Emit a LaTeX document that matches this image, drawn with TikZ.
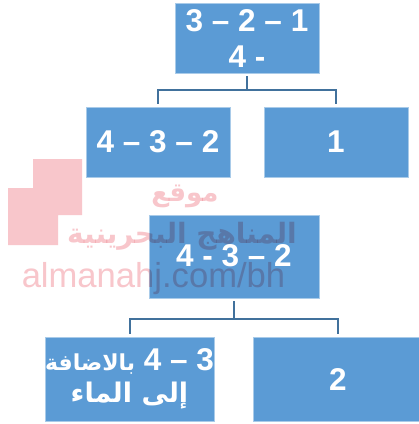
\documentclass[tikz,border=0pt]{standalone}
\usepackage{fontspec}
\setmainfont{Liberation Sans}
\newfontfamily\arabicfont[Script=Arabic]{DejaVu Sans}
\TeXXeTstate=1
\definecolor{boxblue}{HTML}{5B9BD5}
\definecolor{boxedge}{HTML}{A9CBE9}
\definecolor{connblue}{HTML}{41719C}
\definecolor{wmpink}{HTML}{F8C6CB}
\tikzset{
  nbox/.style={draw=boxedge,line width=0.6pt,fill=boxblue,text=white,inner sep=0pt,align=center,
    font=\fontsize{31.5}{36}\selectfont\bfseries},
  conn/.style={draw=connblue,line width=2pt},
  wmtext/.style={text=wmpink,inner sep=0pt,blend mode=multiply}
}
\begin{document}
\begin{tikzpicture}[x=1pt,y=-1pt]
\useasboundingbox (0,0) rectangle (419,424);
\fill[white] (0,0) rectangle (419,424);
\node[nbox,minimum width=144pt,minimum height=70pt] (top) at (247,38) {3 – 2 – 1\\4 -};
\node[nbox,minimum width=144pt,minimum height=70pt] (la) at (158,142) {4 – 3 – 2};
\node[nbox,minimum width=144pt,minimum height=70pt] (ra) at (336,142) {1};
\node[nbox,minimum width=170pt,minimum height=83pt] (mid) at (234,256.5) {\raisebox{2pt}{4 - 3 – 2}};
\node[nbox,minimum width=169pt,minimum height=84pt] (lb) at (129.5,379) {\raisebox{-3pt}{\begin{tabular}{@{}c@{}}%
  {\fontsize{22}{30}\selectfont\arabicfont\beginR بالاضافة\endR}\ 4 – 3\\[-4pt]
  {\fontsize{27}{30}\selectfont\arabicfont\beginR إلى الماء\endR}\end{tabular}}};
\node[nbox,minimum width=169pt,minimum height=84pt] (rb) at (338,379) {2};
\coordinate (ja) at (247,90);
\coordinate (jb) at (234,319);
\draw[conn,shorten <=3pt] (top.south) -- (ja);
\draw[conn,shorten <=3pt] (la.north) |- (ja);
\draw[conn,shorten <=3pt] (ra.north) |- (ja);
\draw[conn,shorten <=3pt] (mid.south) -- (jb);
\draw[conn,shorten <=3pt] (lb.north) |- (jb);
\draw[conn,shorten <=3pt] (rb.north) |- (jb);
\begin{scope}[blend mode=multiply]
\fill[wmpink] (33,159)--(82,159)--(82,215)--(58,215)--(58,245)--(8,245)--(8,188)--(33,188)--cycle;
\end{scope}
\node[wmtext,font=\fontsize{26}{28}\selectfont\bfseries\arabicfont] (wa) at (185,196) {\beginR موقع\endR};
\node[wmtext,font=\fontsize{28}{30}\selectfont\bfseries\arabicfont] (wb) at (182,236) {\beginR المناهج البحرينية\endR};
\node[wmtext,font=\fontsize{34.6}{36}\selectfont] (wc) at (153.5,279) {almanahj.com/bh};
\end{tikzpicture}
\end{document}
